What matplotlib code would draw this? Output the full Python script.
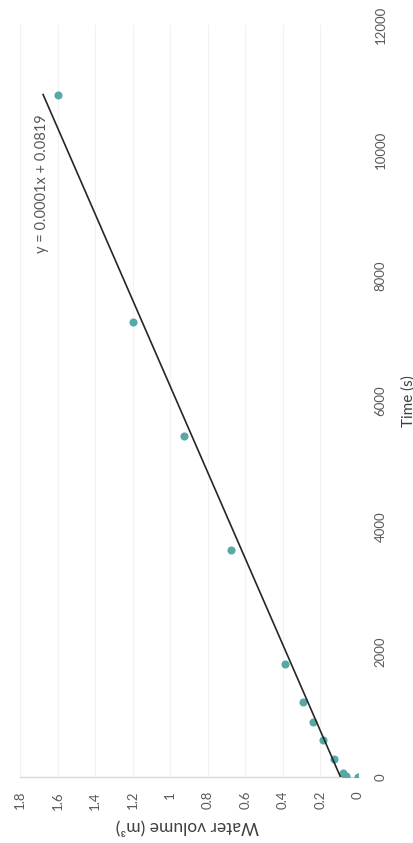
import matplotlib
matplotlib.use("Agg")
import matplotlib.pyplot as plt
import numpy as np

# Data read from the (rotated) reference chart
time_s = [0, 10, 70, 285, 590, 885, 1200, 1800, 3615, 5440, 7265, 10890]
volume_m3 = [0.0, 0.065, 0.08, 0.13, 0.185, 0.24, 0.295, 0.39, 0.678, 0.925, 1.196, 1.596]
volume_ticks = [0, 0.2, 0.4, 0.6, 0.8, 1.0, 1.2, 1.4, 1.6, 1.8]
volume_tick_labels = ["0", "0.2", "0.4", "0.6", "0.8", "1", "1.2", "1.4", "1.6", "1.8"]
time_ticks = [0, 2000, 4000, 6000, 8000, 10000, 12000]
equation_text = "y = 0.0001x + 0.0819"

plt.rcParams['font.family'] = ['Lato', 'DejaVu Sans']

fig = plt.figure(figsize=(4.14, 8.43), dpi=100)
ax = fig.add_axes([20/414, (843-777)/843, 338/414, 752/843])

# Chart is rotated 90 deg CCW: volume runs right->left, time bottom->top
ax.set_xlim(1.8, 0)
ax.set_ylim(0, 12000)

ax.set_xticks(volume_ticks)
ax.set_xticklabels(volume_tick_labels)
ax.set_yticks(time_ticks)
ax.yaxis.tick_right()
ax.yaxis.set_label_position('right')

ax.tick_params(axis='x', length=0, pad=10, labelrotation=90, labelsize=9.5, colors='#595959')
ax.tick_params(axis='y', length=0, pad=12, labelrotation=90, labelsize=9.5, colors='#595959')
for lab in ax.get_yticklabels():
    lab.set_verticalalignment('center')

for s in ['top', 'left', 'right']:
    ax.spines[s].set_visible(False)
ax.spines['bottom'].set_color('#d9d9d9')
ax.spines['bottom'].set_linewidth(1.0)

ax.grid(axis='x', color='#f2f2f2', linewidth=0.8)
ax.set_axisbelow(True)

# Scatter points
ax.scatter(volume_m3, time_s, s=34, color='#58a8a5', zorder=3, linewidths=0)

# Linear trendline (volume vs time) computed from the data
t = np.array(time_s, dtype=float)
v = np.array(volume_m3, dtype=float)
slope, intercept = np.polyfit(t, v, 1)
t_line = np.array([0.0, t.max()])
ax.plot(slope * t_line + intercept, t_line, color='#262626', linewidth=1.2, zorder=4)

ax.text(1.683, 9460, equation_text, rotation=90, ha='center', va='center',
        fontsize=10.5, color='#595959')

ax.set_xlabel("Water volume (m³)", rotation=180, fontsize=12.5, color='#404040')
ax.xaxis.set_label_coords((187-20)/338, -(819-777)/752)
ax.set_ylabel("Time (s)", rotation=90, fontsize=11, color='#404040')
ax.yaxis.set_label_coords((401-20)/338, 0.5)

fig.savefig("out.png", dpi=100)
